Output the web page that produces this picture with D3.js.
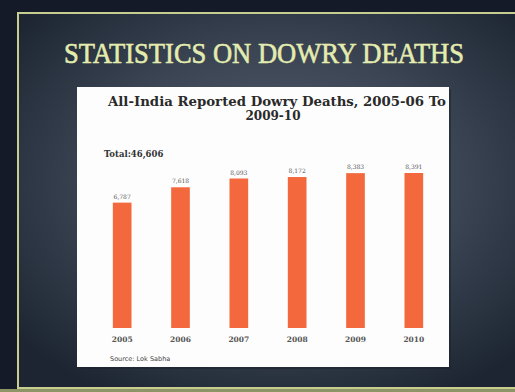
<!DOCTYPE html>
<html><head><meta charset="utf-8">
<script src="https://cdn.jsdelivr.net/npm/d3@7"></script>
<style>html,body{margin:0;padding:0;background:#151b28;}svg{display:block;}</style>
</head><body>
<script>
const categories = ["2005","2006","2007","2008","2009","2010"];
const values = [6787, 7618, 8093, 8172, 8383, 8391];
const valueLabels = ["6,787","7,618","8,093","8,172","8,383","8,391"];
const slideTitle = "STATISTICS ON DOWRY DEATHS";
const chartTitle1 = "All-India Reported Dowry Deaths, 2005-06 To";
const chartTitle2 = "2009-10";
const totalLabel = "Total:46,606";
const sourceLabel = "Source: Lok Sabha";

const W = 515, H = 392;
const svg = d3.select("body").append("svg").attr("width", W).attr("height", H);
const defs = svg.append("defs");
const rg = defs.append("radialGradient").attr("id","bg").attr("cx","50%").attr("cy","45%").attr("r","65%");
rg.append("stop").attr("offset","0%").attr("stop-color","#56606e");
rg.append("stop").attr("offset","55%").attr("stop-color","#3a4452");
rg.append("stop").attr("offset","100%").attr("stop-color","#1d2532");

svg.append("rect").attr("width",W).attr("height",H).attr("fill","#141a27");
svg.append("rect").attr("x",17).attr("y",12).attr("width",520).attr("height",376).attr("fill","url(#bg)");
svg.append("rect").attr("x",18).attr("y",13).attr("width",520).attr("height",375)
  .attr("fill","none").attr("stroke","#c7cd8e").attr("stroke-width",2);
svg.append("rect").attr("x",0).attr("y",389).attr("width",W).attr("height",3).attr("fill","#8d9466");

svg.append("text").attr("x",264).attr("y",63).attr("text-anchor","middle")
  .attr("font-family","Liberation Serif, serif").attr("font-size",30)
  .attr("fill","#e4ecb0").attr("stroke","#e4ecb0").attr("stroke-width",0.6)
  .attr("textLength",400).attr("lengthAdjust","spacingAndGlyphs")
  .text(slideTitle);

// white panel
svg.append("rect").attr("x",79).attr("y",89).attr("width",372).attr("height",280).attr("fill","#1a2029").attr("opacity",0.5);
svg.append("rect").attr("x",77).attr("y",87).attr("width",372).attr("height",280).attr("fill","#fdfdfd");

svg.append("text").attr("x",277).attr("y",106).attr("text-anchor","middle")
  .attr("font-family","DejaVu Serif, serif").attr("font-weight","bold").attr("font-size",12)
  .attr("fill","#2a2a2a").attr("textLength",338).attr("lengthAdjust","spacingAndGlyphs").text(chartTitle1);
svg.append("text").attr("x",273).attr("y",120).attr("text-anchor","middle")
  .attr("font-family","DejaVu Serif, serif").attr("font-weight","bold").attr("font-size",12)
  .attr("fill","#2a2a2a").text(chartTitle2);
svg.append("text").attr("x",104).attr("y",157)
  .attr("font-family","DejaVu Serif, serif").attr("font-weight","bold").attr("font-size",8.5)
  .attr("fill","#333").text(totalLabel);

const x = d3.scaleBand().domain(categories).range([93, 443]).paddingInner(0.68).paddingOuter(0.34);
const y = d3.scaleLinear().domain([0, 8391]).range([328, 173]);

svg.selectAll("rect.bar").data(values).join("rect").attr("class","bar")
  .attr("x",(d,i)=>x(categories[i])).attr("width",x.bandwidth())
  .attr("y",d=>y(d)).attr("height",d=>y(0)-y(d)).attr("fill","#f4683d");

svg.selectAll("text.vl").data(values).join("text").attr("class","vl")
  .attr("x",(d,i)=>x(categories[i])+x.bandwidth()/2).attr("y",d=>y(d)-4)
  .attr("text-anchor","middle").attr("font-family","DejaVu Serif, serif").attr("font-size",6)
  .attr("fill","#555").text((d,i)=>valueLabels[i]);

const xAxis = d3.axisBottom(x).tickSize(0).tickPadding(9);
const ax = svg.append("g").attr("transform","translate(0,328)").call(xAxis);
ax.select(".domain").remove();
ax.selectAll("text").attr("font-family","DejaVu Serif, serif").attr("font-weight","bold")
  .attr("font-size",7.5).attr("fill","#555");

svg.append("text").attr("x",110).attr("y",361)
  .attr("font-family","DejaVu Sans, sans-serif").attr("font-size",6.5)
  .attr("fill","#444").text(sourceLabel);
</script>
</body></html>
